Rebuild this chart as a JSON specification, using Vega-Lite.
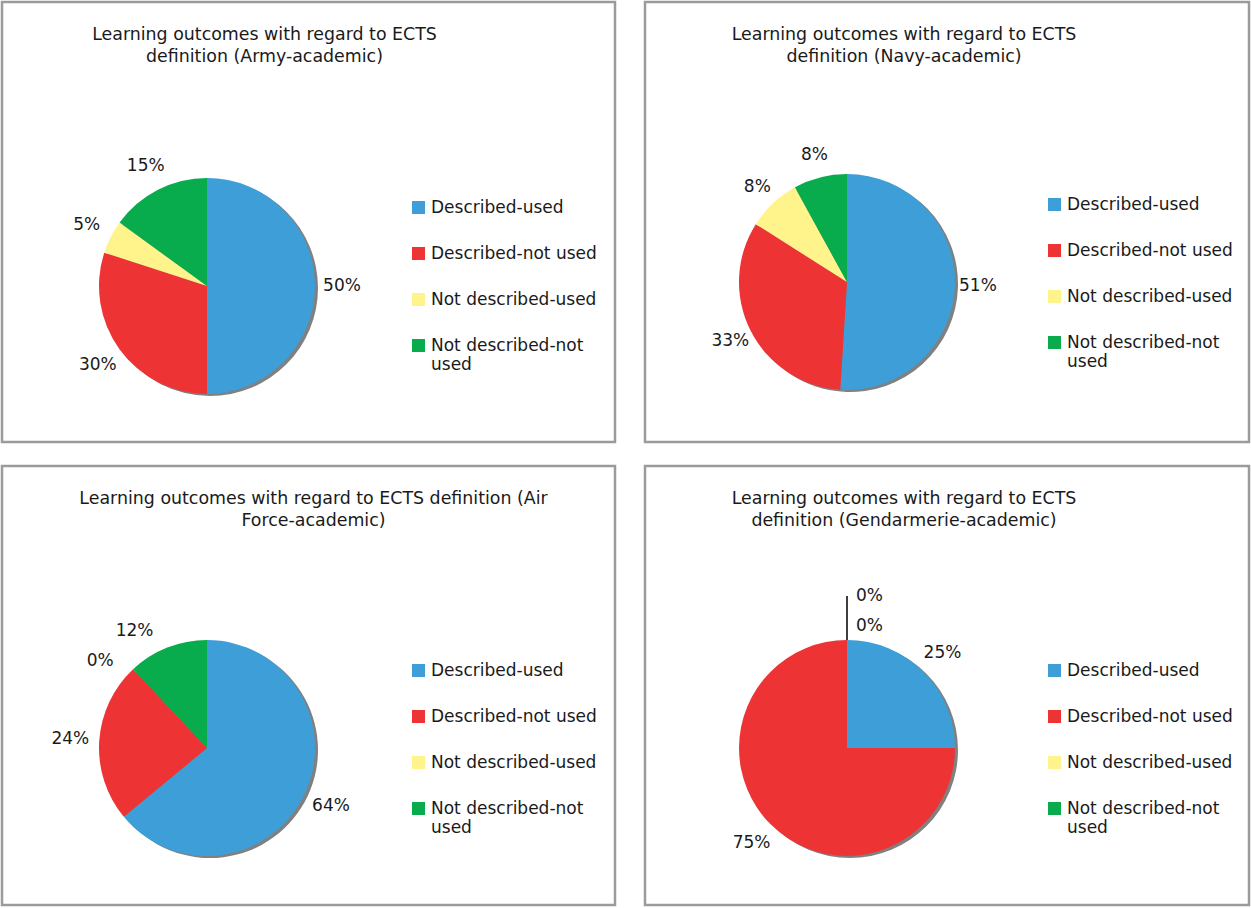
{
  "$schema": "https://vega.github.io/schema/vega-lite/v6.json",
  "background": "white",
  "padding": {"left": 0, "top": 0, "right": 0, "bottom": 0},
  "datasets": {
    "pies": [
      {"panel": "Army", "category": "Described-used", "value": 50, "order": 1, "label": "50%"},
      {"panel": "Army", "category": "Described-not used", "value": 30, "order": 2, "label": "30%"},
      {"panel": "Army", "category": "Not described-used", "value": 5, "order": 3, "label": "5%"},
      {"panel": "Army", "category": "Not described-not used", "value": 15, "order": 4, "label": "15%"},
      {"panel": "Navy", "category": "Described-used", "value": 51, "order": 1, "label": "51%"},
      {"panel": "Navy", "category": "Described-not used", "value": 33, "order": 2, "label": "33%"},
      {"panel": "Navy", "category": "Not described-used", "value": 8, "order": 3, "label": "8%"},
      {"panel": "Navy", "category": "Not described-not used", "value": 8, "order": 4, "label": "8%"},
      {"panel": "AirForce", "category": "Described-used", "value": 64, "order": 1, "label": "64%"},
      {"panel": "AirForce", "category": "Described-not used", "value": 24, "order": 2, "label": "24%"},
      {"panel": "AirForce", "category": "Not described-used", "value": 0, "order": 3, "label": "0%"},
      {"panel": "AirForce", "category": "Not described-not used", "value": 12, "order": 4, "label": "12%"},
      {"panel": "Gendarmerie", "category": "Described-used", "value": 25, "order": 1, "label": "25%"},
      {"panel": "Gendarmerie", "category": "Described-not used", "value": 75, "order": 2, "label": "75%"},
      {"panel": "Gendarmerie", "category": "Not described-used", "value": 0, "order": 3, "label": "0%"},
      {"panel": "Gendarmerie", "category": "Not described-not used", "value": 0, "order": 4, "label": "0%"}
    ]
  },
  "columns": 2,
  "spacing": {"row": 20, "column": 26},
  "resolve": {"scale": {"color": "independent"}, "legend": {"color": "independent"}},
  "config": {
    "font": "DejaVu Sans",
    "text": {"font": "DejaVu Sans", "fontSize": 17, "color": "#1a1a1a"},
    "legend": {
      "orient": "none",
      "title": null,
      "symbolType": "square",
      "symbolSize": 169,
      "symbolStrokeWidth": 0,
      "labelFont": "DejaVu Sans",
      "labelFontSize": 17,
      "labelColor": "#1a1a1a",
      "labelOffset": 4,
      "labelLimit": 300,
      "rowPadding": 28,
      "padding": 0
    },
    "title": {"font": "DejaVu Sans", "fontSize": 17.4, "fontWeight": "normal", "color": "#1a1a1a", "lineHeight": 22}
  },
  "concat": [
    {
      "width": 613, "height": 440,
      "view": {"stroke": "#9b9b9b", "strokeWidth": 2.5, "fill": "white"},
      "title": {"text": ["Learning outcomes with regard to ECTS", "definition (Army-academic)"], "anchor": "middle", "frame": "group", "baseline": "top", "offset": -63, "dx": -44},
      "data": {"name": "pies"},
      "transform": [{"filter": "datum.panel == 'Army'"}],
      "layer": [
        {
          "mark": {"type": "arc", "x": 208, "y": 286, "radius": 108, "color": "#808080"},
          "encoding": {"theta": {"field": "value", "type": "quantitative", "stack": true}, "order": {"field": "order"}}
        },
        {
          "mark": {"type": "arc", "x": 205, "y": 284, "radius": 108},
          "encoding": {
            "theta": {"field": "value", "type": "quantitative", "stack": true},
            "order": {"field": "order"},
            "color": {"field": "category", "type": "nominal",
              "scale": {"domain": ["Described-used", "Described-not used", "Not described-used", "Not described-not used"], "range": ["#3e9ed8", "#ee3335", "#fff48b", "#08ac4c"]},
              "legend": {"legendX": 408, "legendY": 197, "labelExpr": "datum.label == 'Not described-not used' ? ['Not described-not', 'used'] : datum.label"}}
          }
        },
        {
          "mark": {"type": "text", "x": 205, "y": 284, "radius": 135},
          "encoding": {
            "theta": {"field": "value", "type": "quantitative", "stack": true},
            "order": {"field": "order"},
            "text": {"field": "label"}
          }
        }
      ]
    },
    {
      "width": 604, "height": 440,
      "view": {"stroke": "#9b9b9b", "strokeWidth": 2.5, "fill": "white"},
      "title": {"text": ["Learning outcomes with regard to ECTS", "definition (Navy-academic)"], "anchor": "middle", "frame": "group", "baseline": "top", "offset": -63, "dx": -43},
      "data": {"name": "pies"},
      "transform": [{"filter": "datum.panel == 'Navy'"}],
      "layer": [
        {
          "mark": {"type": "arc", "x": 205, "y": 282, "radius": 108, "color": "#808080"},
          "encoding": {"theta": {"field": "value", "type": "quantitative", "stack": true}, "order": {"field": "order"}}
        },
        {
          "mark": {"type": "arc", "x": 202, "y": 280, "radius": 108},
          "encoding": {
            "theta": {"field": "value", "type": "quantitative", "stack": true},
            "order": {"field": "order"},
            "color": {"field": "category", "type": "nominal",
              "scale": {"domain": ["Described-used", "Described-not used", "Not described-used", "Not described-not used"], "range": ["#3e9ed8", "#ee3335", "#fff48b", "#08ac4c"]},
              "legend": {"legendX": 401, "legendY": 194, "labelExpr": "datum.label == 'Not described-not used' ? ['Not described-not', 'used'] : datum.label"}}
          }
        },
        {
          "mark": {"type": "text", "x": 202, "y": 280, "radius": 131},
          "encoding": {
            "theta": {"field": "value", "type": "quantitative", "stack": true},
            "order": {"field": "order"},
            "text": {"field": "label"}
          }
        }
      ]
    },
    {
      "width": 613, "height": 439,
      "view": {"stroke": "#9b9b9b", "strokeWidth": 2.5, "fill": "white"},
      "title": {"text": ["Learning outcomes with regard to ECTS definition (Air", "Force-academic)"], "anchor": "middle", "frame": "group", "baseline": "top", "offset": -63, "dx": 5},
      "data": {"name": "pies"},
      "transform": [{"filter": "datum.panel == 'AirForce'"}],
      "layer": [
        {
          "mark": {"type": "arc", "x": 208, "y": 284, "radius": 108, "color": "#808080"},
          "encoding": {"theta": {"field": "value", "type": "quantitative", "stack": true}, "order": {"field": "order"}}
        },
        {
          "mark": {"type": "arc", "x": 205, "y": 282, "radius": 108},
          "encoding": {
            "theta": {"field": "value", "type": "quantitative", "stack": true},
            "order": {"field": "order"},
            "color": {"field": "category", "type": "nominal",
              "scale": {"domain": ["Described-used", "Described-not used", "Not described-used", "Not described-not used"], "range": ["#3e9ed8", "#ee3335", "#fff48b", "#08ac4c"]},
              "legend": {"legendX": 408, "legendY": 196, "labelExpr": "datum.label == 'Not described-not used' ? ['Not described-not', 'used'] : datum.label"}}
          }
        },
        {
          "mark": {"type": "text", "x": 205, "y": 282, "radius": 137},
          "encoding": {
            "theta": {"field": "value", "type": "quantitative", "stack": true},
            "order": {"field": "order"},
            "text": {"field": "label"},
            "opacity": {"condition": {"test": "datum.order <= 2", "value": 1}, "value": 0}
          }
        },
        {
          "mark": {"type": "text", "x": 205, "y": 282, "radius": 137, "dx": -22, "dy": 10},
          "encoding": {
            "theta": {"field": "value", "type": "quantitative", "stack": true},
            "order": {"field": "order"},
            "text": {"field": "label"},
            "opacity": {"condition": {"test": "datum.order == 4", "value": 1}, "value": 0}
          }
        },
        {
          "mark": {"type": "text", "x": 205, "y": 282, "radius": 137, "dx": -13, "dy": 13},
          "encoding": {
            "theta": {"field": "value", "type": "quantitative", "stack": true},
            "order": {"field": "order"},
            "text": {"field": "label"},
            "opacity": {"condition": {"test": "datum.order == 3", "value": 1}, "value": 0}
          }
        }
      ]
    },
    {
      "width": 604, "height": 439,
      "view": {"stroke": "#9b9b9b", "strokeWidth": 2.5, "fill": "white"},
      "title": {"text": ["Learning outcomes with regard to ECTS", "definition (Gendarmerie-academic)"], "anchor": "middle", "frame": "group", "baseline": "top", "offset": -63, "dx": -43},
      "data": {"name": "pies"},
      "transform": [{"filter": "datum.panel == 'Gendarmerie'"}],
      "layer": [
        {
          "mark": {"type": "arc", "x": 205, "y": 284, "radius": 108, "color": "#808080"},
          "encoding": {"theta": {"field": "value", "type": "quantitative", "stack": true}, "order": {"field": "order"}}
        },
        {
          "mark": {"type": "arc", "x": 202, "y": 282, "radius": 108},
          "encoding": {
            "theta": {"field": "value", "type": "quantitative", "stack": true},
            "order": {"field": "order"},
            "color": {"field": "category", "type": "nominal",
              "scale": {"domain": ["Described-used", "Described-not used", "Not described-used", "Not described-not used"], "range": ["#3e9ed8", "#ee3335", "#fff48b", "#08ac4c"]},
              "legend": {"legendX": 401, "legendY": 196, "labelExpr": "datum.label == 'Not described-not used' ? ['Not described-not', 'used'] : datum.label"}}
          }
        },
        {
          "transform": [{"filter": "datum.value > 0"}],
          "mark": {"type": "text", "x": 202, "y": 282, "radius": 135},
          "encoding": {
            "theta": {"field": "value", "type": "quantitative", "stack": true},
            "order": {"field": "order"},
            "text": {"field": "label"}
          }
        },
        {
          "mark": {"type": "arc", "x": 202, "y": 282, "radius": 152, "radius2": 108, "fill": null, "stroke": "#1a1a1a", "strokeWidth": 1.2},
          "encoding": {
            "theta": {"field": "value", "type": "quantitative", "stack": true},
            "order": {"field": "order"},
            "opacity": {"condition": {"test": "datum.value == 0", "value": 1}, "value": 0}
          }
        },
        {
          "transform": [{"filter": "datum.category == 'Not described-used'"}],
          "mark": {"type": "text", "x": 202, "y": 282, "radius": 122, "align": "left", "dx": 9},
          "encoding": {
            "theta": {"field": "value", "type": "quantitative", "stack": true},
            "text": {"field": "label"}
          }
        },
        {
          "transform": [{"filter": "datum.category == 'Not described-not used'"}],
          "mark": {"type": "text", "x": 202, "y": 282, "radius": 152, "align": "left", "dx": 9},
          "encoding": {
            "theta": {"field": "value", "type": "quantitative", "stack": true},
            "text": {"field": "label"}
          }
        }
      ]
    }
  ]
}
